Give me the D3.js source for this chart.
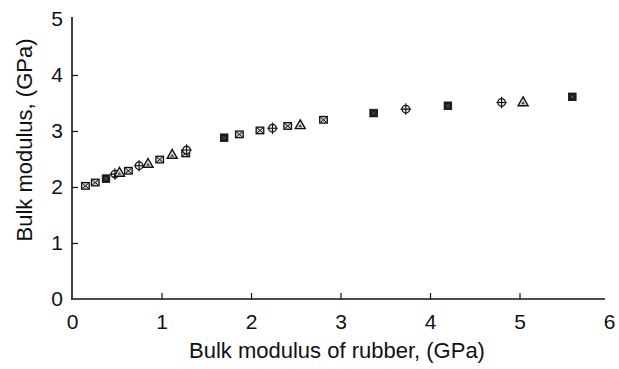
<!DOCTYPE html>
<html>
<head>
<meta charset="utf-8">
<script src="https://cdn.jsdelivr.net/npm/d3@7/dist/d3.min.js"></script>
<style>
  html, body { margin: 0; padding: 0; background: #fff; }
  svg { display: block; }
  text { font-family: "Liberation Sans", Arial, Helvetica, sans-serif; fill: #111; }
</style>
</head>
<body>
<svg id="chart" width="619" height="369"></svg>
<script>
// Bulk modulus of the rubber-modified composite against the bulk modulus of the rubber phase
const rubberModulus = [0.15, 0.26, 0.38, 0.48, 0.53, 0.63, 0.75, 0.85, 0.98, 1.12, 1.27, 1.28,
                       1.70, 1.87, 2.10, 2.24, 2.41, 2.55, 2.81, 3.37, 3.73, 4.20, 4.80, 5.04, 5.59];
const bulkModulus   = [2.02, 2.08, 2.15, 2.23, 2.26, 2.29, 2.38, 2.42, 2.49, 2.58, 2.60, 2.66,
                       2.88, 2.94, 3.01, 3.05, 3.09, 3.11, 3.20, 3.32, 3.39, 3.45, 3.51, 3.52, 3.61];
const markerKind    = ["boxx", "boxx", "filled", "circplus", "tri", "boxx", "circplus", "tri", "boxx", "tri", "boxx", "circplus",
                       "filled", "boxx", "boxx", "circplus", "boxx", "tri", "boxx", "filled", "circplus", "filled", "circplus", "tri", "filled"];

const xTicks = [0, 1, 2, 3, 4, 5, 6];
const yTicks = [0, 1, 2, 3, 4, 5];
const xTitle = "Bulk modulus of rubber, (GPa)";
const yTitle = "Bulk modulus, (GPa)";

const svg = d3.select("#chart");
const plotLeft = 72, plotRight = 609, plotTop = 19, plotBottom = 299;

const x = d3.scaleLinear().domain([0, 6]).range([plotLeft, plotRight]);
const y = d3.scaleLinear().domain([0, 5]).range([plotBottom, plotTop]);

// x axis with inward ticks
const xAxis = d3.axisBottom(x)
  .tickValues(xTicks)
  .tickFormat(d3.format("d"))
  .tickSizeInner(-6)
  .tickSizeOuter(0)
  .tickPadding(15);
const gx = svg.append("g").attr("transform", `translate(0,${plotBottom})`).call(xAxis);
gx.select(".domain").attr("stroke", "#111").attr("stroke-width", 1.6).attr("d", `M${plotLeft - 1},0H${plotRight - 4}`);
gx.selectAll(".tick line").attr("stroke", "#111").attr("stroke-width", 1.2)
  .style("display", d => (d === 0 || d === 6) ? "none" : null);
gx.selectAll(".tick text").attr("font-size", 21).style("fill", "#111");

// y axis with inward ticks
const yAxis = d3.axisLeft(y)
  .tickValues(yTicks)
  .tickFormat(d3.format("d"))
  .tickSizeInner(-6)
  .tickSizeOuter(0)
  .tickPadding(9);
const gy = svg.append("g").attr("transform", `translate(${plotLeft},0)`).call(yAxis);
gy.select(".domain").attr("stroke", "#111").attr("stroke-width", 1.6).attr("d", `M0,${plotTop - 2}V${plotBottom}`);
gy.selectAll(".tick line").attr("stroke", "#111").attr("stroke-width", 1.2)
  .style("display", d => (d === 0 || d === 5) ? "none" : null);
gy.selectAll(".tick text").attr("font-size", 21).style("fill", "#111");

// axis titles
svg.append("text")
  .attr("x", 337)
  .attr("y", 358)
  .attr("text-anchor", "middle")
  .attr("font-size", 22)
  .text(xTitle);

svg.append("text")
  .attr("transform", `translate(26,140) rotate(-90)`)
  .attr("text-anchor", "middle")
  .attr("dominant-baseline", "middle")
  .attr("font-size", 22)
  .text(yTitle);

// data markers
const points = rubberModulus.map((v, i) => ({ xv: v, yv: bulkModulus[i], kind: markerKind[i] }));
const marks = svg.append("g").selectAll("g")
  .data(points)
  .join("g")
  .attr("transform", d => `translate(${x(d.xv)},${y(d.yv)})`);

marks.each(function (d) {
  const g = d3.select(this);
  if (d.kind === "boxx") {
    g.append("rect").attr("x", -3.8).attr("y", -3.3).attr("width", 7.6).attr("height", 6.6)
      .attr("fill", "#d4d4d4").attr("stroke", "#111").attr("stroke-width", 1.3);
    g.append("path").attr("d", "M-3.2,-2.7L3.2,2.7M-3.2,2.7L3.2,-2.7")
      .attr("stroke", "#111").attr("stroke-width", 1);
  } else if (d.kind === "filled") {
    g.append("rect").attr("x", -3.8).attr("y", -3.8).attr("width", 7.6).attr("height", 7.6)
      .attr("fill", "#1a1a1a").attr("stroke", "#111").attr("stroke-width", 0.8);
    g.append("path").attr("d", "M-1.6,-1.6L1.6,1.6M-1.6,1.6L1.6,-1.6")
      .attr("stroke", "#777").attr("stroke-width", 0.7);
  } else if (d.kind === "circplus") {
    g.append("circle").attr("r", 3.8)
      .attr("fill", "#e6e6e6").attr("stroke", "#111").attr("stroke-width", 1.3);
    g.append("path").attr("d", "M0,-5.8V5.8M-5.3,0H5.3")
      .attr("stroke", "#111").attr("stroke-width", 1.1);
  } else if (d.kind === "tri") {
    g.append("path").attr("d", "M0,-5L5,3.8L-5,3.8Z")
      .attr("fill", "#e0e0e0").attr("stroke", "#111").attr("stroke-width", 1.4)
      .attr("stroke-linejoin", "miter");
    g.append("path").attr("d", "M0,-0.8L1.9,2.3L-1.9,2.3Z")
      .attr("fill", "#444");
  }
});
</script>
</body>
</html>
